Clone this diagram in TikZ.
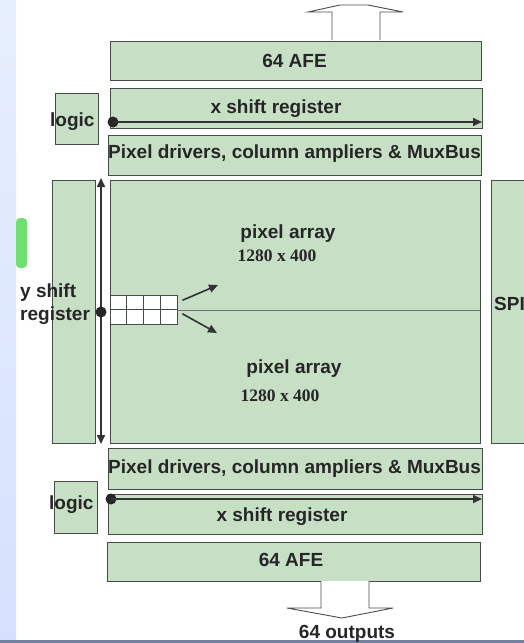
\documentclass[tikz,border=0pt]{standalone}
\usepackage{fontspec}
\setmainfont{Liberation Sans}
\newfontfamily\numfont{Liberation Serif}
\usepackage{xcolor}
\usetikzlibrary{arrows.meta}
\definecolor{boxgreen}{RGB}{199,224,197}
\definecolor{boxline}{RGB}{70,76,72}
\definecolor{stripblue}{RGB}{214,228,252}
\definecolor{blobgreen}{RGB}{112,222,112}
\definecolor{bandgrey}{RGB}{112,130,160}

\begin{document}
\begin{tikzpicture}[x=1pt,y=-1pt,>={Triangle[length=9pt,width=8pt]},
  blk/.style={draw=boxline,fill=boxgreen,line width=0.9pt,inner sep=0pt,minimum width=#1},
  blk/.default=372pt,
  lbl/.style={font=\fontsize{19}{23}\selectfont\bfseries,inner sep=0pt,text=black!85},
  num/.style={font=\fontsize{17.5}{21}\selectfont\numfont\bfseries,inner sep=0pt,text=black!85},
  cell/.style={draw=boxline,fill=white,line width=0.8pt,minimum width=16.75pt,minimum height=14.5pt,inner sep=0pt},
  hollow/.style={draw=black!70,fill=white,line width=0.9pt,line join=miter},
  dot/.style={circle,fill=black!85,minimum size=11pt,inner sep=0pt},
  wire/.style={->,line width=1.6pt,black!80}]
\useasboundingbox (0,0) rectangle (524,643);
\clip (0,0) rectangle (524,643);
% backdrop
\shade[top color=stripblue!60,bottom color=stripblue!95!blue!80] (0,0) rectangle (16,643);
\fill[blobgreen,rounded corners=4pt] (16,218) rectangle (27,268);
\fill[bandgrey] (0,640) rectangle (524,643);
% top half
\draw[hollow] (332,40) -- (332,12) -- (308,12) -- (340,5) -- (368,5) -- (403,12) -- (380,12) -- (380,40);
\node[blk=371pt,minimum height=39pt] (afeT) at (295.5,60.5) {};
\node[blk,minimum height=40pt] (xregT) at (296,108) {};
\node[blk=43pt,minimum height=51pt] (logT) at (76.5,118.5) {};
\node[blk=373pt,minimum height=40pt] (drvT) at (294.5,155) {};
% middle
\node[blk=370pt,minimum height=263pt] (pix) at (295,311.5) {};
\node[blk=43pt,minimum height=263pt] (yreg) at (73.5,311.5) {};
\node[blk=60pt,minimum height=263pt] (spi) at (521,311.5) {};
% bottom half
\node[blk=374pt,minimum height=41pt] (drvB) at (295,468.5) {};
\node[blk=43pt,minimum height=52pt] (logB) at (75.5,507) {};
\node[blk=374pt,minimum height=40pt] (xregB) at (295,514) {};
\node[blk=373pt,minimum height=39pt] (afeB) at (293.5,561.5) {};
\draw[hollow] (321,581) -- (321,608) -- (287,608) -- (342,618) -- (393,608) -- (369,608) -- (369,581);
% labels
\node[lbl,anchor=base] at (294.5,67) {64 AFE};
\node[lbl,anchor=base] at (276,113) {x shift register};
\node[lbl,anchor=base west] at (50,126) {logic};
\node[lbl,anchor=base west] at (108,158) {Pixel drivers, column ampliers \& MuxBus};
\node[lbl,anchor=base] at (288,238) {pixel array};
\node[num,anchor=base] at (277,261) {1280 x 400};
\node[lbl,anchor=base] at (294,373) {pixel array};
\node[num,anchor=base] at (280,401) {1280 x 400};
\node[lbl,anchor=base west] at (20,297) {y shift};
\node[lbl,anchor=base west] at (20,320) {register};
\node[lbl,anchor=base west] at (494,310) {SPI};
\node[lbl,anchor=base west] at (108,473) {Pixel drivers, column ampliers \& MuxBus};
\node[lbl,anchor=base west] at (49,509) {logic};
\node[lbl,anchor=base] at (282,521) {x shift register};
\node[lbl,anchor=base] at (291,566) {64 AFE};
\node[lbl,anchor=base] at (347,638) {64 outputs};
% shift register arrows
\node[dot] (dT) at (113,122) {};
\coordinate (eT) at (482,122);
\draw[wire] (dT.center) -- (eT);
\node[dot] (dB) at (111,499) {};
\coordinate (eB) at (482,499);
\draw[wire] (dB.center) -- (eB);
\coordinate (yT) at (101,178);
\coordinate (yB) at (101,444);
\draw[wire,<->] (yB) -- (yT);
% pixel cells
\foreach \i in {0,...,3}
  \foreach \j in {0,1}
    \node[cell] (c\i\j) at ({118.4+\i*16.75},{302.3+\j*14.5}) {};
\draw[black!55,line width=0.5pt] (c30.south east) -- (c30.south east -| pix.east);
\node[dot] (dY) at (101,312) {};
\coordinate (aU) at (218,285);
\coordinate (aD) at (217,333);
\draw[wire] ([shift={(5,-2)}]c30.east) -- (aU);
\draw[wire] ([shift={(5,-3)}]c31.east) -- (aD);
\end{tikzpicture}
\end{document}
